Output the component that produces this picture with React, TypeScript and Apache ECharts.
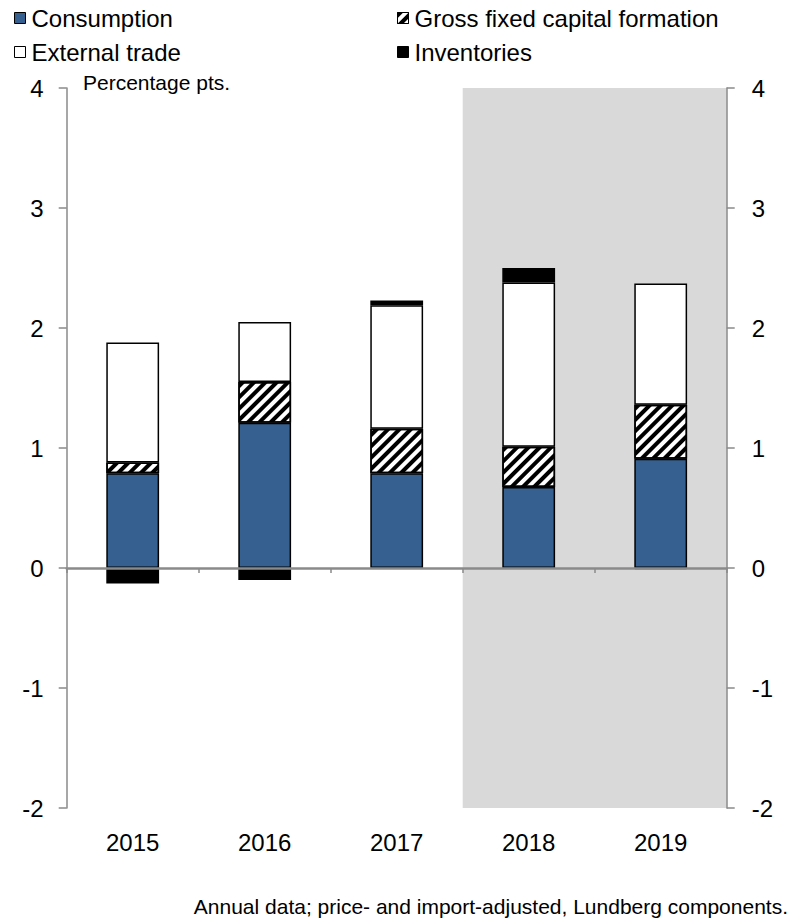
import React, { useEffect, useRef } from "react";
import * as echarts from "echarts";

const categories = ["2015", "2016", "2017", "2018", "2019"];
const consumption = [0.79, 1.21, 0.79, 0.675, 0.91];
const grossFixedCapital = [0.09, 0.34, 0.37, 0.335, 0.45];
const externalTrade = [1.0, 0.5, 1.03, 1.37, 1.01];
const inventories = [-0.13, -0.1, 0.04, 0.12, -0.01];
const forecastYears = ["2018", "2019"];
const yMin = -2;
const yMax = 4;
const yStep = 1;
const unitLabel = "Percentage pts.";
const noteText = "Annual data; price- and import-adjusted, Lundberg components.";

const FONT = "'Liberation Sans', Arial, sans-serif";
const BLUE = "#36608f";
const AXIS_GREY = "#8a8a8a";
const SHADE = "#d9d9d9";

export default function App() {
  const ref = useRef<HTMLDivElement>(null);

  useEffect(() => {
    if (!ref.current) return;
    const chart = echarts.init(ref.current, undefined, { renderer: "svg" });

    const legendBase = {
      padding: 0,
      itemWidth: 11,
      itemHeight: 11,
      itemGap: 0,
      icon: "rect",
      selectedMode: false,
      itemStyle: { borderColor: "#000", borderWidth: 1 },
      textStyle: { fontSize: 24, color: "#000", fontFamily: FONT, lineHeight: 24, padding: [0, 0, 0, 1] },
    };

    const barBorder = { borderColor: "#000", borderWidth: 1.5 };

    const firstIdx = categories.indexOf(forecastYears[0]);
    const lastIdx = categories.indexOf(forecastYears[forecastYears.length - 1]);

    const option: any = {
      animation: false,
      textStyle: { fontFamily: FONT },
      legend: [
        { ...legendBase, data: ["Consumption"], left: 14, top: 6 },
        { ...legendBase, data: ["Gross fixed capital formation"], left: 397, top: 6 },
        { ...legendBase, data: ["External trade"], left: 14, top: 40 },
        { ...legendBase, data: ["Inventories"], left: 397, top: 40 },
      ],
      grid: { left: 66.7, right: 65.3, top: 88, bottom: 115, containLabel: false },
      xAxis: [
        {
          type: "category",
          data: categories,
          position: "bottom",
          axisLine: { show: false },
          axisTick: { show: false },
          axisLabel: { fontSize: 24, color: "#000", fontFamily: FONT, margin: 22 },
          splitLine: { show: false },
        },
        {
          type: "category",
          data: categories,
          position: "bottom",
          z: 5,
          axisLine: { show: true, onZero: true, onZeroAxisIndex: 0, lineStyle: { color: AXIS_GREY, width: 2.5 } },
          axisTick: { show: true, inside: false, length: 5, lineStyle: { color: AXIS_GREY, width: 1.5 } },
          axisLabel: { show: false },
          splitLine: { show: false },
        },
      ],
      yAxis: [
        {
          type: "value",
          position: "left",
          min: yMin,
          max: yMax,
          interval: yStep,
          z: 5,
          axisLine: { show: true, lineStyle: { color: AXIS_GREY, width: 1.5 } },
          axisTick: { show: true, inside: false, length: 8, lineStyle: { color: AXIS_GREY, width: 1.5 } },
          axisLabel: { fontSize: 24, color: "#000", fontFamily: FONT, margin: 23 },
          splitLine: { show: false },
        },
        {
          type: "value",
          position: "right",
          min: yMin,
          max: yMax,
          interval: yStep,
          z: 5,
          axisLine: { show: true, lineStyle: { color: AXIS_GREY, width: 1.5 } },
          axisTick: { show: true, inside: false, length: 8, lineStyle: { color: AXIS_GREY, width: 1.5 } },
          axisLabel: { fontSize: 24, color: "#000", fontFamily: FONT, margin: 25 },
          splitLine: { show: false },
        },
      ],
      series: [
        {
          name: "forecastShade",
          type: "custom",
          xAxisIndex: 0,
          yAxisIndex: 0,
          z: 1,
          silent: true,
          data: [[firstIdx, lastIdx, yMax, yMin]],
          encode: { x: [0, 1], y: [2, 3] },
          renderItem: (params: any, api: any) => {
            const a = api.coord([api.value(0), api.value(2)]);
            const b = api.coord([api.value(1), api.value(3)]);
            const bw = api.size([1, 0])[0];
            const x0 = a[0] - bw / 2;
            const x1 = b[0] + bw / 2;
            return {
              type: "rect",
              shape: { x: x0, y: a[1], width: x1 - x0, height: b[1] - a[1] },
              style: { fill: SHADE },
            };
          },
        },
        {
          name: "Consumption",
          type: "bar",
          stack: "total",
          barWidth: "40%",
          z: 2,
          itemStyle: { color: BLUE, ...barBorder },
          data: consumption,
        },
        {
          name: "Gross fixed capital formation",
          type: "bar",
          stack: "total",
          barWidth: "40%",
          z: 2,
          itemStyle: {
            color: "#fff",
            ...barBorder,
            decal: {
              symbol: "rect",
              symbolSize: 1,
              dashArrayX: [1, 0],
              dashArrayY: [4, 4],
              rotation: -Math.PI / 4,
              color: "#000",
              backgroundColor: "#fff",
            },
          },
          data: grossFixedCapital,
        },
        {
          name: "External trade",
          type: "bar",
          stack: "total",
          barWidth: "40%",
          z: 2,
          itemStyle: { color: "#fff", ...barBorder },
          data: externalTrade,
        },
        {
          name: "Inventories",
          type: "bar",
          stack: "total",
          barWidth: "40%",
          z: 2,
          itemStyle: { color: "#000", ...barBorder },
          data: inventories,
        },
      ],
      graphic: [
        {
          type: "text",
          left: 83,
          top: 72,
          style: { text: unitLabel, fontSize: 21, fill: "#000", fontFamily: FONT },
        },
        {
          type: "text",
          right: 4,
          top: 896,
          style: { text: noteText, fontSize: 21, fill: "#000", fontFamily: FONT },
        },
      ],
    };

    chart.setOption(option);
    return () => chart.dispose();
  }, []);

  return (
    <div
      ref={ref}
      style={{ position: "fixed", left: 0, top: 0, width: 792, height: 923, background: "#fff" }}
    />
  );
}
